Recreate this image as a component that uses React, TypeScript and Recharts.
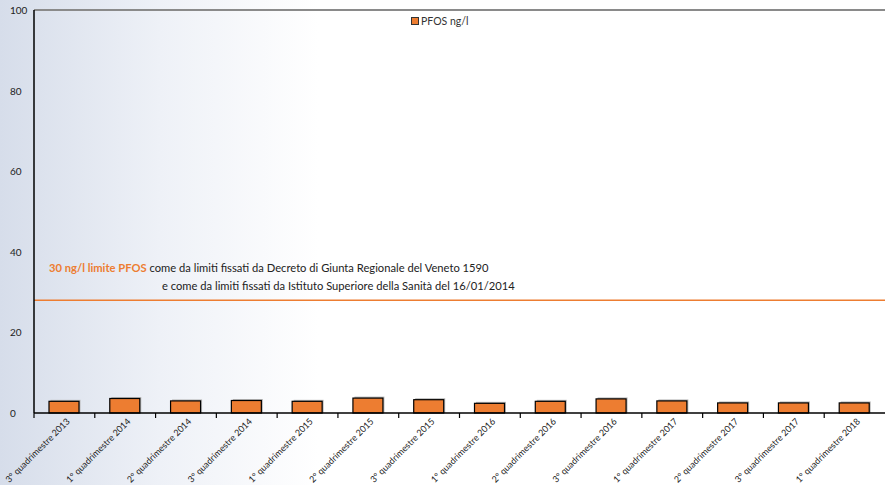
import {
  BarChart,
  Bar,
  XAxis,
  YAxis,
  ReferenceLine,
  Legend,
} from "recharts";

const quadrimestri = [
  "3° quadrimestre 2013",
  "1° quadrimestre 2014",
  "2° quadrimestre 2014",
  "3° quadrimestre 2014",
  "1° quadrimestre 2015",
  "2° quadrimestre 2015",
  "3° quadrimestre 2015",
  "1° quadrimestre 2016",
  "2° quadrimestre 2016",
  "3° quadrimestre 2016",
  "1° quadrimestre 2017",
  "2° quadrimestre 2017",
  "3° quadrimestre 2017",
  "1° quadrimestre 2018",
];
const pfosValues = [2.9, 3.6, 3.0, 3.1, 2.9, 3.7, 3.3, 2.4, 2.9, 3.5, 3.0, 2.5, 2.5, 2.5];
const yTicks = [0, 20, 40, 60, 80, 100];
const limitValue = 28;

const data = quadrimestri.map((q, i) => ({ name: q, pfos: pfosValues[i] }));

const W = 885;
const H = 485;
const PLOT_LEFT = 34;
const BAND = (W - PLOT_LEFT) / quadrimestri.length;
const FONT = "Lato, 'Open Sans', sans-serif";

// Excel-style: tick marks between categories, labels at 45° ending under the bar
const XTick = (props: any) => {
  const { x, y, payload } = props;
  return (
    <g>
      <line x1={x - BAND / 2} x2={x - BAND / 2} y1={y - 8} y2={y - 3} stroke="#000" strokeWidth={1.2} />
      <g transform={`translate(${x + 6}, ${y + 1})`}>
        <text transform="rotate(-45)" x={0} y={0} textAnchor="end" fontSize={9} fontFamily={FONT} fill="#222">
          {payload.value}
        </text>
      </g>
    </g>
  );
};

const YTick = (props: any) => {
  const { y, payload } = props;
  return (
    <text x={10} y={y + 4} fontSize={10} fontFamily={FONT} fill="#222">
      {payload.value}
    </text>
  );
};

const BarShape = (props: any) => {
  const { x, y, width, height } = props;
  return (
    <g>
      <rect x={x + 1.5} y={y - 1.5} width={width} height={height + 1.5} fill="#b8b8b8" />
      <rect x={x} y={y} width={width} height={height} fill="#ED7D31" stroke="#000" strokeWidth={1.2} />
    </g>
  );
};

const LimitLabel = (props: any) => {
  const vb = props.viewBox || { x: 0, y: 0 };
  return (
    <g fontFamily={FONT} fontSize={11.2}>
      <text x={vb.x + 15} y={vb.y - 28}>
        <tspan fill="#ED7D31" fontWeight="bold">30 ng/l limite PFOS</tspan>
        <tspan fill="#222"> come da limiti fissati da Decreto di Giunta Regionale del Veneto 1590</tspan>
      </text>
      <text x={vb.x + 128} y={vb.y - 10} fill="#222">
        e come da limiti fissati da Istituto Superiore della Sanità del 16/01/2014
      </text>
    </g>
  );
};

const LegendBox = () => (
  <div style={{ display: "flex", alignItems: "center", fontFamily: FONT, fontSize: 10.5, color: "#333" }}>
    <span
      style={{
        display: "inline-block",
        width: 6,
        height: 6,
        background: "#ED7D31",
        border: "1px solid #333",
        marginRight: 2,
      }}
    />
    PFOS ng/l
  </div>
);

export default function App() {
  return (
    <div
      style={{
        position: "fixed",
        left: 0,
        top: 0,
        width: W,
        height: H,
        background: "linear-gradient(to right, #d6ddea 0%, #eef1f7 18%, #ffffff 36%)",
      }}
    >
      <BarChart width={W} height={H} data={data} margin={{ top: 10, right: 0, left: 0, bottom: 0 }} barSize={30}>
        <XAxis
          dataKey="name"
          interval={0}
          height={72}
          axisLine={{ stroke: "#000", strokeWidth: 1.5 }}
          tickLine={false}
          tick={<XTick />}
        />
        <YAxis
          domain={[0, 100]}
          ticks={yTicks}
          width={PLOT_LEFT}
          axisLine={{ stroke: "#000", strokeWidth: 1.5 }}
          tickLine={false}
          tick={<YTick />}
        />
        <Legend
          layout="horizontal"
          verticalAlign="middle"
          content={<LegendBox />}
          wrapperStyle={{ position: "absolute", top: 15, left: 411, width: 100 }}
        />
        <ReferenceLine y={100} stroke="#8a8a8a" strokeWidth={2} />
        <ReferenceLine y={limitValue} stroke="#ED7D31" strokeWidth={1.5} label={<LimitLabel />} />
        <Bar dataKey="pfos" name="PFOS ng/l" shape={<BarShape />} isAnimationActive={false} />
      </BarChart>
    </div>
  );
}
